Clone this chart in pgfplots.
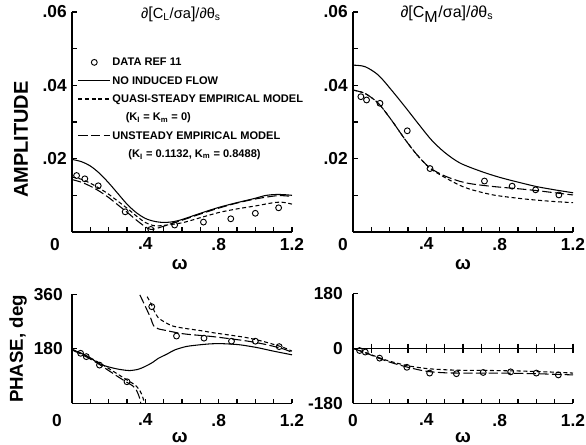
\documentclass[border=0pt]{standalone}
\usepackage{fontspec}
\setmainfont{Liberation Sans}
\usepackage{pgfplots}
\pgfplotsset{compat=1.18}
\newcommand{\tickfont}{\fontsize{13}{13}\selectfont\bfseries}
\pgfplotsset{
  base/.style={
    scale only axis, width=165pt, anchor=south west,
    axis lines=left, axis line style={-, line width=0.9pt},
    tick align=inside, major tick length=3.5pt, minor tick length=3.5pt,
    tick style={black, line width=0.8pt},
    xmin=0, xmax=1.2, xtick={0.4,0.8,1.2}, xticklabels={.4,.8,1.2},
    minor xtick={0.1,0.2,0.3,0.5,0.6,0.7,0.9,1.0,1.1},
    ticklabel style={font=\tickfont},
    xticklabel style={inner sep=0pt, yshift=-4.3pt},
    yticklabel style={inner sep=0pt},
    scaled y ticks=false,
    clip=false,
  },
  solidc/.style={black, line width=0.8pt},
  quasi/.style={black, line width=0.8pt, dash pattern=on 3pt off 2pt},
  unst/.style={black, line width=0.8pt, dash pattern=on 7pt off 2.5pt},
  datam/.style={black, only marks, mark=o, mark size=2.2pt, mark options={line width=0.7pt, solid}},
  myimg/.style={legend image code/.code={\draw[mark repeat=2,mark phase=2,##1] plot coordinates {(0pt,0pt) (12pt,0pt) (24pt,0pt)};}},
}
\begin{document}
\begin{tikzpicture}
\useasboundingbox (0,0) rectangle (439.5pt,333.75pt);

% ---------------- top left: amplitude of lift
\begin{axis}[base, at={(54pt,159.75pt)}, height=165pt,
  ymin=0, ymax=0.06, ytick={0.02,0.04,0.06}, yticklabels={.02,.04,.06},
  minor ytick={0.01,0.03,0.05}, yticklabel style={xshift=-3.75pt},
  legend style={at={(0.025,0.805)}, anchor=north west, draw=none, fill=none,
    font=\fontsize{8.3}{8.3}\selectfont\bfseries, row sep=2.95pt, column sep=0pt, inner sep=0pt,
    nodes={inner sep=1.2pt, text height=6.8pt, text depth=1.6pt}},
  legend cell align=left,
]
\addlegendimage{datam, myimg}\addlegendentry{DATA REF 11}
\addlegendimage{solidc, myimg}\addlegendentry{NO INDUCED FLOW}
\addlegendimage{quasi, myimg}\addlegendentry{QUASI-STEADY EMPIRICAL MODEL}
\addlegendimage{empty legend}\addlegendentry{\hspace*{10pt}(K\textsubscript{I} = K\textsubscript{m} = 0)}
\addlegendimage{unst, myimg}\addlegendentry{UNSTEADY EMPIRICAL MODEL}
\addlegendimage{empty legend}\addlegendentry{\hspace*{12pt}(K\textsubscript{I} = 0.1132, K\textsubscript{m} = 0.8488)}
\addplot[solidc, smooth, forget plot] coordinates {(0,0.0198)(0.05,0.0192)(0.1,0.0180)(0.15,0.0160)(0.2,0.0134)(0.25,0.0105)(0.3,0.0076)(0.35,0.0053)(0.4,0.0037)(0.45,0.0029)(0.5,0.0026)(0.55,0.0028)(0.6,0.0034)(0.7,0.0051)(0.8,0.0067)(0.9,0.0080)(1.0,0.0092)(1.05,0.0099)(1.1,0.0102)(1.15,0.0102)(1.2,0.0100)};
\addplot[quasi, smooth, forget plot] coordinates {(0,0.0150)(0.05,0.0144)(0.1,0.0133)(0.15,0.0119)(0.2,0.0103)(0.25,0.0084)(0.3,0.0065)(0.35,0.0044)(0.4,0.0026)(0.45,0.0017)(0.5,0.0018)(0.6,0.0025)(0.7,0.0039)(0.8,0.0053)(0.9,0.0063)(1.0,0.0071)(1.1,0.0080)(1.15,0.0081)(1.2,0.0076)};
\addplot[unst, smooth, forget plot] coordinates {(0,0.0143)(0.05,0.0136)(0.1,0.0125)(0.15,0.0111)(0.2,0.0094)(0.25,0.0074)(0.3,0.0054)(0.35,0.0033)(0.4,0.0014)(0.43,0.0007)(0.47,0.0011)(0.55,0.0024)(0.6,0.0032)(0.7,0.0049)(0.8,0.0065)(0.9,0.0079)(1.0,0.0090)(1.1,0.0098)(1.15,0.0099)(1.2,0.0097)};
\addplot[datam, forget plot] coordinates {(0.025,0.0154)(0.07,0.0145)(0.143,0.0126)(0.29,0.0055)(0.43,0.0007)(0.56,0.0019)(0.717,0.0027)(0.866,0.0036)(1.0,0.0051)(1.127,0.0066)};
\node[font=\fontsize{11}{11}\selectfont] at (rel axis cs:0.495,1) [yshift=-1.5pt] {∂{\large[}C\textsubscript{L}/σa{\large]}/∂θ\textsubscript{s}};
\node[font=\tickfont, anchor=north, inner sep=0pt] at (rel axis cs:0,0) [xshift=-12.75pt, yshift=-4.3pt] {0};
\node[font=\fontsize{14}{14}\selectfont\bfseries] at (rel axis cs:0.49,0) [yshift=-24.75pt] {ω};
\end{axis}

% ---------------- top right: amplitude of moment
\begin{axis}[base, at={(264.75pt,159.75pt)}, height=165pt,
  ymin=0, ymax=0.06, ytick={0.02,0.04,0.06}, yticklabels={.02,.04,.06},
  minor ytick={0.01,0.03,0.05}, yticklabel style={xshift=-3.75pt},
]
\addplot[solidc, smooth] coordinates {(0,0.0455)(0.065,0.0451)(0.138,0.0428)(0.21,0.0387)(0.283,0.0342)(0.355,0.0296)(0.428,0.0251)(0.5,0.0217)(0.584,0.0188)(0.7,0.0165)(0.8,0.0149)(0.9,0.0136)(1.0,0.0124)(1.1,0.0115)(1.2,0.0107)};
\addplot[quasi, smooth] coordinates {(0,0.0387)(0.065,0.0378)(0.138,0.0351)(0.21,0.0305)(0.283,0.0253)(0.35,0.0210)(0.42,0.0174)(0.5,0.0149)(0.584,0.0127)(0.65,0.0115)(0.765,0.0101)(0.9,0.0092)(1.0,0.0087)(1.1,0.0083)(1.2,0.0080)};
\addplot[unst, smooth] coordinates {(0,0.0387)(0.065,0.0378)(0.138,0.0351)(0.21,0.0305)(0.283,0.0253)(0.35,0.0210)(0.42,0.0175)(0.5,0.0153)(0.584,0.0138)(0.65,0.0131)(0.765,0.0124)(0.9,0.0118)(1.0,0.0113)(1.1,0.0107)(1.2,0.0101)};
\addplot[datam] coordinates {(0.043,0.0369)(0.074,0.0360)(0.147,0.0351)(0.296,0.0276)(0.42,0.0173)(0.717,0.0139)(0.868,0.0125)(0.996,0.0115)(1.123,0.0101)};
\node[font=\fontsize{12}{12}\selectfont] at (rel axis cs:0.427,1) [yshift=-1.5pt] {∂{\large[}C\textsubscript{\large M}/σa{\large]}/∂θ\textsubscript{s}};
\node[font=\tickfont, anchor=north, inner sep=0pt] at (rel axis cs:0,0) [xshift=-7.5pt, yshift=-4.3pt] {0};
\node[font=\fontsize{14}{14}\selectfont\bfseries] at (rel axis cs:0.5,0) [yshift=-24.75pt] {ω};
\end{axis}

% ---------------- bottom left: phase of lift
\begin{axis}[base, at={(54pt,31.3pt)}, height=81.75pt,
  ymin=0, ymax=360, ytick={180,360}, yticklabels={180,360},
  yticklabel style={xshift=-6.75pt}, xticklabel style={yshift=-3.6pt},
]
\addplot[solidc, smooth] coordinates {(0,178)(0.05,165)(0.087,154)(0.16,128)(0.233,115)(0.28,110)(0.315,108)(0.36,112)(0.397,121)(0.44,135)(0.47,148)(0.52,163)(0.56,176)(0.62,187)(0.68,192)(0.75,196)(0.8,197)(0.85,196)(0.917,193)(1.0,185)(1.04,180)(1.1,172)(1.2,160)};
\addplot[quasi, smooth] coordinates {(0,178)(0.05,165)(0.1,150)(0.15,133)(0.2,115)(0.25,96)(0.3,77)(0.33,66)(0.35,57)(0.37,42)(0.38,30)(0.39,12)(0.395,0)};
\addplot[unst, smooth] coordinates {(0,176)(0.05,162)(0.1,146)(0.15,128)(0.2,108)(0.25,88)(0.3,69)(0.33,58)(0.35,45)(0.36,32)(0.37,15)(0.375,0)};
\addplot[quasi, smooth] coordinates {(0.41,352)(0.43,330)(0.45,303)(0.47,283)(0.5,270)(0.55,255)(0.62,247)(0.7,240)(0.77,233)(0.85,226)(0.95,217)(1.05,203)(1.15,185)(1.2,172)};
\addplot[unst, smooth] coordinates {(0.37,358)(0.4,320)(0.43,280)(0.445,256)(0.47,246)(0.5,242)(0.6,230)(0.7,224)(0.77,220)(0.85,214)(0.95,206)(1.05,195)(1.15,180)(1.2,168)};
\addplot[datam] coordinates {(0.047,165)(0.078,154)(0.15,126)(0.30,71)(0.435,319)(0.57,222)(0.72,215)(0.87,205)(1.0,205)(1.13,187)};
\node[font=\tickfont, anchor=north, inner sep=0pt] at (rel axis cs:0,0) [xshift=-11.25pt, yshift=-7.9pt] {0};
\node[font=\fontsize{14}{14}\selectfont\bfseries] at (rel axis cs:0.49,0) [yshift=-25.5pt] {ω};
\end{axis}

% ---------------- bottom right: phase of moment
\begin{axis}[base, at={(264.75pt,31.3pt)}, height=82.3pt,
  ymin=-180, ymax=180, ytick={-180,0,180}, yticklabels={-180,0,180},
  yticklabel style={xshift=-7.5pt}, xticklabel style={yshift=-3.6pt},
  xtick={0,0.4,0.8,1.2}, xticklabels={0,.4,.8,1.2},
]
\addplot[solidc, mark=|, mark size=3.5pt, mark options={solid, line width=0.8pt}] coordinates {(0,0)(0.1,0)(0.2,0)(0.3,0)(0.4,0)(0.5,0)(0.6,0)(0.7,0)(0.8,0)(0.9,0)(1.0,0)(1.1,0)(1.2,0)};
\addplot[quasi, smooth] coordinates {(0,0)(0.07,-14)(0.14,-30)(0.2,-42)(0.3,-57)(0.4,-66)(0.5,-70)(0.6,-72)(0.7,-72)(0.8,-73)(0.9,-74)(1.0,-76)(1.1,-78)(1.2,-81)};
\addplot[unst, smooth] coordinates {(0,0)(0.07,-15)(0.14,-32)(0.2,-45)(0.3,-62)(0.4,-75)(0.5,-80)(0.6,-81)(0.7,-81)(0.8,-81)(0.9,-82)(1.0,-83)(1.1,-85)(1.2,-87)};
\addplot[datam] coordinates {(0.036,-7)(0.067,-12)(0.145,-32)(0.294,-62)(0.418,-81)(0.564,-83)(0.71,-79)(0.86,-77)(1.0,-81)(1.12,-87)};
\node[font=\fontsize{14}{14}\selectfont\bfseries] at (rel axis cs:0.5,0) [yshift=-25.5pt] {ω};
\end{axis}

\node[rotate=90, font=\fontsize{15}{15}\selectfont\bfseries] at (15.75pt,229pt) {AMPLITUDE};
\node[rotate=90, font=\fontsize{14}{14}\selectfont\bfseries] at (13.5pt,72pt) {PHASE, deg};
\end{tikzpicture}
\end{document}
